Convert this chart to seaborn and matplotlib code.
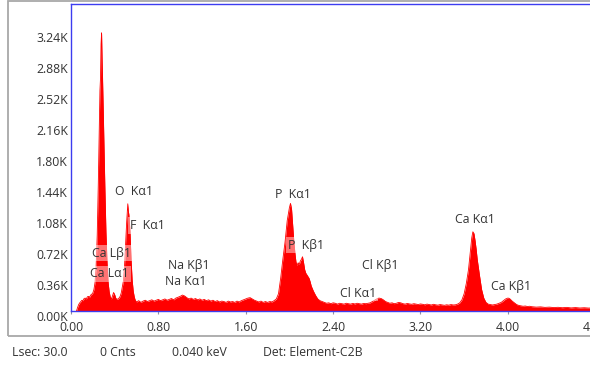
import matplotlib
matplotlib.use("Agg")
import matplotlib.pyplot as plt
import matplotlib.transforms as mtransforms
from matplotlib.patches import Rectangle
import seaborn as sns
import pandas as pd

# ---------------- data ----------------
energy_kev = [
    0.05, 0.06, 0.07, 0.08, 0.09, 0.10, 0.11, 0.12, 0.13, 0.14, 0.15, 0.16, 0.17, 0.18, 0.19, 0.20,
    0.21, 0.22, 0.23, 0.24, 0.25, 0.26, 0.265, 0.27, 0.275, 0.28, 0.285, 0.29, 0.295, 0.30, 0.31,
    0.32, 0.33, 0.34, 0.35,
    0.36, 0.37, 0.38, 0.39, 0.40, 0.41, 0.42, 0.43, 0.44, 0.45,
    0.46, 0.47, 0.48, 0.49, 0.50, 0.51, 0.515, 0.52, 0.525, 0.53, 0.54, 0.55, 0.56, 0.57, 0.58, 0.59,
    0.60, 0.62, 0.64, 0.66, 0.68, 0.70, 0.72, 0.74, 0.76, 0.78, 0.80, 0.82, 0.84, 0.86, 0.88, 0.90,
    0.92, 0.94, 0.96, 0.98, 1.00, 1.02, 1.04, 1.06, 1.08, 1.10, 1.12, 1.14, 1.16, 1.18, 1.20, 1.22,
    1.24, 1.26, 1.28, 1.30, 1.32, 1.34, 1.36, 1.38, 1.40, 1.42, 1.44, 1.46, 1.48, 1.50, 1.52, 1.54,
    1.56, 1.58, 1.60, 1.62, 1.64, 1.66, 1.68, 1.70, 1.72, 1.74, 1.76, 1.78, 1.80, 1.82, 1.84, 1.86,
    1.88, 1.90, 1.92, 1.94, 1.96, 1.98, 2.00, 2.01, 2.02, 2.03, 2.04, 2.05, 2.06, 2.07, 2.08, 2.09,
    2.10, 2.11, 2.12, 2.13, 2.14, 2.15, 2.16, 2.17, 2.18, 2.19, 2.20, 2.22, 2.24, 2.26, 2.28, 2.30,
    2.32, 2.34, 2.36, 2.38, 2.40, 2.42, 2.44, 2.46, 2.48, 2.50, 2.52, 2.54, 2.56, 2.58, 2.60, 2.62,
    2.64, 2.66, 2.68, 2.70, 2.72, 2.74, 2.76, 2.78, 2.80, 2.82, 2.84, 2.86, 2.88, 2.90, 2.92, 2.94,
    2.96, 2.98, 3.00, 3.02, 3.04, 3.06, 3.08, 3.10, 3.12, 3.14, 3.16, 3.18, 3.20, 3.22, 3.24, 3.26,
    3.28, 3.30, 3.32, 3.34, 3.36, 3.38, 3.40, 3.42, 3.44, 3.46, 3.48, 3.50, 3.52, 3.54,
    3.56, 3.58, 3.60, 3.62, 3.64, 3.66, 3.67, 3.68, 3.69, 3.70, 3.71, 3.72, 3.74, 3.76, 3.78, 3.80,
    3.82, 3.84, 3.86, 3.88, 3.90, 3.92, 3.94, 3.96, 3.98, 4.00, 4.01, 4.02, 4.04, 4.06, 4.08, 4.10,
    4.12, 4.14, 4.16, 4.18, 4.20, 4.22, 4.26, 4.30, 4.34, 4.38, 4.42, 4.46, 4.50, 4.54, 4.58, 4.62,
    4.66, 4.70, 4.74, 4.78, 4.82, 4.90, 5.00,
]
counts = [
    0, 40, 75, 95, 110, 125, 120, 145, 150, 140, 165, 170, 160, 185, 195, 210,
    250, 330, 520, 880, 1480, 2250, 2560, 2700, 3100, 3230, 2900, 2650, 2350, 2050, 1450,
    920, 560, 330, 220,
    160, 140, 175, 215, 190, 150, 135, 140, 150, 170,
    210, 280, 350, 520, 790, 1040, 1150, 1245, 1160, 1120, 930, 600, 360, 230, 160, 120,
    105, 120, 100, 115, 125, 110, 120, 130, 115, 125, 135, 120, 130, 140, 125, 135,
    145, 130, 150, 160, 170, 185, 175, 155, 140, 150, 135, 145, 130, 140, 125, 135,
    120, 130, 115, 125, 110, 120, 105, 115, 110, 100, 115, 105, 110, 100, 115, 105,
    120, 130, 140, 150, 155, 140, 125, 115, 105, 115, 100, 110, 100, 110, 105, 120,
    140, 200, 380, 600, 800, 1050, 1200, 1250, 1180, 1000, 820, 680, 570, 530, 560, 540,
    580, 600, 630, 560, 480, 440, 420, 400, 380, 340, 290, 230, 180, 140, 120, 110,
    100, 90, 95, 85, 95, 90, 80, 90, 85, 80, 90, 85, 80, 88, 82, 90,
    85, 80, 88, 85, 90, 95, 110, 125, 140, 150, 145, 130, 110, 100, 90, 95,
    85, 90, 100, 95, 85, 80, 88, 82, 78, 85, 80, 75, 82, 78, 72, 80,
    75, 70, 78, 72, 68, 75, 70, 66, 72, 68, 75, 70, 72, 80,
    95, 130, 200, 320, 480, 720, 850, 920, 900, 820, 720, 600, 420, 250, 150, 100,
    80, 75, 70, 75, 80, 90, 100, 120, 140, 150, 148, 140, 115, 95, 75, 65,
    60, 55, 58, 52, 55, 50, 45, 48, 42, 45, 40, 43, 38, 42, 36, 40,
    35, 38, 34, 36, 33, 30, 30,
]

ytick_values = [0, 360, 720, 1080, 1440, 1800, 2160, 2520, 2880, 3240]
xtick_values = [0.00, 0.80, 1.60, 2.40, 3.20, 4.00, 4.80]

peak_labels = ["O  K\u03b11", "F  K\u03b11", "Ca L\u03b21", "Ca L\u03b11", "Na K\u03b21", "Na K\u03b11",
               "P  K\u03b11", "P  K\u03b21", "Cl K\u03b21", "Cl K\u03b11", "Ca K\u03b11", "Ca K\u03b21"]
label_x = [0.403, 0.540, 0.192, 0.174, 0.888, 0.861, 1.868, 1.987, 2.665, 2.463, 3.516, 3.846]
label_y = [1393, 990, 673, 430, 534, 337, 1358, 766, 534, 209, 1068, 279]

footer_texts = ["Lsec: 30.0", "0 Cnts", "0.040 keV", "Det: Element-C2B"]

# ---------------- style ----------------
sns.set_theme(style="white")
plt.rcParams["font.family"] = ["Open Sans", "DejaVu Sans"]

W, H = 590, 367
fig = plt.figure(figsize=(W / 100, H / 100), dpi=100)

# outer grey frame
fig.patches.append(Rectangle((8 / W, 1 - 336 / H), 2.0, (336 - 1) / H,
                             transform=fig.transFigure, fill=False,
                             edgecolor="#a8a8a8", linewidth=1.3, zorder=0))

ax_left, ax_top, ax_bottom = 71, 4, 311
px_per_kev = 109.2
xmax = 5.12
ax = fig.add_axes([ax_left / W, 1 - ax_bottom / H, xmax * px_per_kev / W, (ax_bottom - ax_top) / H])
ax.set_facecolor("white")

df = pd.DataFrame({"keV": energy_kev, "counts": counts})
ax.fill_between(df["keV"], 0, df["counts"], color="#ff0000", linewidth=0, zorder=2)
sns.lineplot(data=df, x="keV", y="counts", ax=ax, color="#ff0000", linewidth=0.6, zorder=3)

ax.set_xlim(0, xmax)
ax.set_ylim(0, (ax_bottom - ax_top) * 360 / 31)
ax.set_xticks(xtick_values)
ax.set_xticklabels([f"{v:.2f}" for v in xtick_values])
ax.set_yticks(ytick_values)
ax.set_yticklabels([f"{v / 1000:.2f}K" for v in ytick_values])
ax.set_xlabel("")
ax.set_ylabel("")

for s in ["left", "top", "bottom"]:
    ax.spines[s].set_color("#3c3cf0")
    ax.spines[s].set_linewidth(1.0)
ax.spines["right"].set_visible(False)

ax.tick_params(axis="x", length=2, width=0.8, color="#9090a0", pad=5,
               labelsize=8.8, labelcolor="#333333", direction="out", bottom=True)
ax.tick_params(axis="y", length=0, pad=2, labelsize=8.8, labelcolor="#333333", left=True)

offset = mtransforms.ScaledTranslation(0, -0.05, fig.dpi_scale_trans)
for lab in ax.get_yticklabels():
    lab.set_transform(lab.get_transform() + offset)

for txt, x, y in zip(peak_labels, label_x, label_y):
    ax.text(x, y, txt, ha="left", va="center", fontsize=8.8, color="#333333", zorder=5,
            bbox=dict(boxstyle="square,pad=0.15", facecolor="white", edgecolor="none", alpha=0.45))

footer_x = [12, 100, 172, 263]
for txt, x in zip(footer_texts, footer_x):
    fig.text(x / W, 1 - 352 / H, txt, ha="left", va="center", fontsize=8.8, color="#333333")

fig.savefig("out.png", dpi=100)
